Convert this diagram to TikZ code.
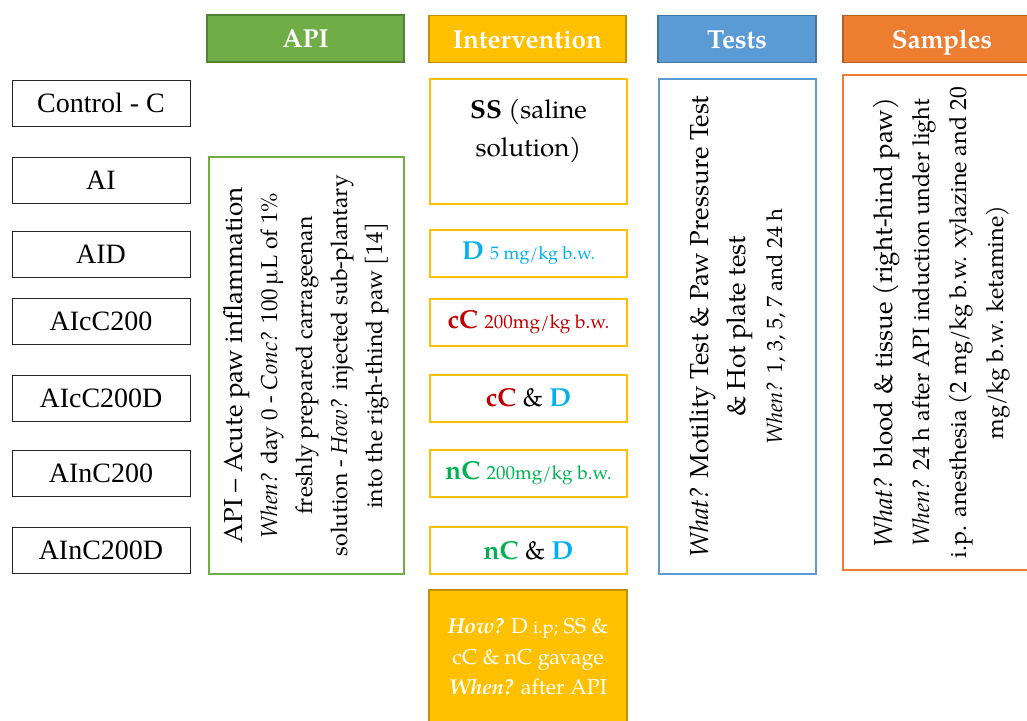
\documentclass[tikz,border=0pt]{standalone}
\usepackage{fontspec}
\setmainfont{TeX Gyre Pagella}
\newfontfamily\grpfont{Liberation Serif}
\usepackage{xcolor}
\definecolor{apigreen}{HTML}{70AD47}
\definecolor{intgold}{HTML}{FFC000}
\definecolor{testblue}{HTML}{5B9BD5}
\definecolor{samporange}{HTML}{ED7D31}
\definecolor{dblue}{HTML}{00B0F0}
\definecolor{cred}{HTML}{C00000}
\definecolor{ngreen}{HTML}{00B050}
\newcommand{\fsz}[2]{\fontsize{#1}{#2}\selectfont}

\begin{document}
\begin{tikzpicture}[x=1pt,y=-1pt,
        grp/.style={draw=black!85,line width=1pt,minimum width=178pt,minimum height=46pt,inner sep=0pt,
            font=\grpfont\fsz{28}{30}},
        hdr/.style={draw=#1!75!black,fill=#1,line width=1.5pt,text=white,minimum height=47pt,inner sep=0pt,
            text height=18pt,text depth=0pt,font=\fsz{26}{30}\bfseries},
        intbox/.style={draw=intgold,line width=2pt,minimum width=197pt,minimum height=47pt,inner sep=0pt,
            font=\fsz{26}{38}},
        colbox/.style={draw=#1,line width=2pt,rotate=90,inner sep=0pt,align=center}]
    \useasboundingbox (0,0) rectangle (1027,720);
    \clip (0,0) rectangle (1027,720);

    % headers
    \node[hdr=apigreen,minimum width=197pt] (hapi) at (305.5,38.5) {API};
    \node[hdr=intgold,minimum width=197pt] (hint) at (527.5,39) {Intervention};
    \node[hdr=testblue,minimum width=158pt] (htst) at (737,39) {Tests};
    \node[hdr=samporange,minimum width=198pt] (hsmp) at (942,39) {Samples};

    % groups
    \node[grp] (gc) at (101,103) {Control - C};
    \node[grp] (gai) at (101,180.5) {AI};
    \node[grp] (gaid) at (101,254) {AID};
    \node[grp] (gcc) at (101,321.5) {AIcC200};
    \node[grp] (gccd) at (101,398) {AIcC200D};
    \node[grp] (gnc) at (101,473.5) {AInC200};
    \node[grp] (gncd) at (101,550.5) {AInC200D};

    % API
    \node[colbox=apigreen,minimum width=417pt,minimum height=195pt,font=\fsz{23}{35}] (api) at (306.5,365.5)
        {{\fsz{26}{35}API – Acute paw inflammation}\\
         \textit{When?} day 0 - \textit{Conc?} 100\,µL of 1\%\\
         freshly prepared carrageenan\\
         solution - \textit{How?} injected sub-plantary\\
         into the righ-thind paw [14]};

    % intervention
    \node[intbox,minimum height=125pt] (ss) at (528.5,141.5) {};
    \node[align=center,font=\fsz{26}{38}] (sstxt) at (528.5,131) {\textbf{SS} (saline\\ solution)};
    \node[intbox,text=dblue] (d) at (528.5,253.5) {\textbf{D} {\fsz{18}{20}5 mg/kg b.w.}};
    \node[intbox,text=cred] (cc) at (528.5,322) {\textbf{cC} {\fsz{19}{20}200mg/kg b.w.}};
    \node[intbox] (ccd) at (528.5,398) {\textbf{\color{cred}cC} \& \textbf{\color{dblue}D}};
    \node[intbox,text=ngreen] (nc) at (528.5,473.5) {\textbf{nC} {\fsz{19}{20}200mg/kg b.w.}};
    \node[intbox] (ncd) at (528.5,550.5) {\textbf{\color{ngreen}nC} \& \textbf{\color{dblue}D}};
    \node[intbox,draw=intgold!75!black,fill=intgold,text=white,minimum width=198pt,minimum height=134pt,
        align=center,font=\fsz{21.5}{30.5}] (how) at (528,657)
        {\textbf{\textit{How?}} D {\fsz{18}{20}i.p;} SS \&\\
         cC \& nC gavage\\
         \textbf{\textit{When?}} after API};

    % tests
    \node[colbox=testblue,minimum width=495pt,minimum height=157pt,font=\fsz{26}{37}] (tst) at (737.5,326.5)
        {\textit{What?} Motility Test \& Paw Pressure Test\\
         \& Hot plate test\\
         {\fsz{22}{37}\textit{When?} 1, 3, 5, 7 and 24 h}};

    % samples
    \node[colbox=samporange,minimum width=495pt,minimum height=198pt,font=\fsz{23.5}{37}] (smp) at (942,322.5)
        {{\fsz{26}{37}\textit{What?} blood \& tissue (right-hind paw)}\\
         \textit{When?} 24 h after API induction under light\\
         i.p. anesthesia (2 mg/kg b.w. xylazine and 20\\
         mg/kg b.w. ketamine)};
\end{tikzpicture}
\end{document}
